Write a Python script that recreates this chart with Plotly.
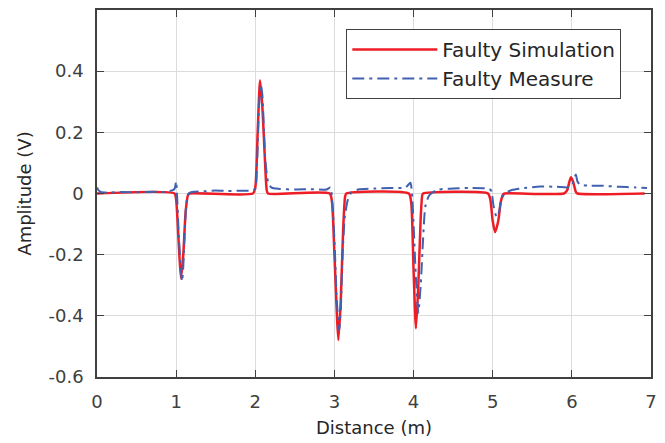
import plotly.graph_objects as go

# Faulty Simulation (red)
sim_x = [0, 0.98, 1.0, 1.03, 1.06, 1.09, 1.12, 1.15, 1.17,
         1.97, 2.0, 2.03, 2.06, 2.09, 2.12, 2.145, 2.16,
         2.94, 2.97, 3.0, 3.05, 3.08, 3.11, 3.135, 3.15,
         3.94, 3.97, 4.0, 4.03, 4.06, 4.09, 4.11, 4.12,
         4.94, 4.97, 5.0, 5.03, 5.07, 5.1, 5.13, 5.15,
         5.9, 5.94, 5.97, 5.99, 6.02, 6.05, 6.07, 6.92]
sim_y = [0, 0, -0.02, -0.15, -0.277, -0.2, -0.06, -0.005, 0,
         0, 0.02, 0.2, 0.37, 0.28, 0.12, 0.01, 0,
         0, -0.03, -0.2, -0.479, -0.35, -0.12, -0.01, 0,
         0, -0.03, -0.25, -0.441, -0.3, -0.08, -0.005, 0,
         0, -0.02, -0.09, -0.126, -0.09, -0.03, -0.003, 0,
         0, 0.01, 0.04, 0.053, 0.035, 0.005, 0, 0]

# Faulty Measure (blue)
meas_x = [0, 0.02, 0.05, 0.15, 0.3, 0.5, 0.7, 0.85, 0.95, 0.98, 1.0, 1.01, 1.03, 1.06, 1.075, 1.09, 1.11, 1.13, 1.16,
          1.2, 1.35, 1.5, 1.65, 1.8, 1.95, 2.0, 2.02, 2.05, 2.07, 2.09, 2.11, 2.13, 2.16, 2.2,
          2.3, 2.5, 2.7, 2.9, 2.95, 2.97, 3.0, 3.03, 3.06, 3.08, 3.1, 3.13, 3.17, 3.22,
          3.3, 3.5, 3.7, 3.9, 3.96, 3.98, 4.0, 4.03, 4.06, 4.09, 4.12, 4.15, 4.2,
          4.3, 4.5, 4.7, 4.9, 4.95, 4.98, 5.01, 5.05, 5.08, 5.11, 5.15,
          5.25, 5.4, 5.6, 5.8, 5.95, 6.0, 6.03, 6.05, 6.07, 6.1, 6.2, 6.4, 6.6, 6.8, 6.95]
meas_y = [0.02, 0.01, 0.005, 0.003, 0.005, 0.004, 0.006, 0.005, 0.01, 0.015, 0.04, 0.005, -0.12, -0.25, -0.287, -0.24, -0.12, -0.03, 0.0,
          0.005, 0.007, 0.01, 0.008, 0.009, 0.01, 0.015, 0.08, 0.3, 0.355, 0.32, 0.2, 0.1, 0.04, 0.02,
          0.015, 0.013, 0.014, 0.013, 0.02, -0.02, -0.15, -0.35, -0.447, -0.38, -0.22, -0.08, -0.02, 0.005,
          0.013, 0.016, 0.018, 0.02, 0.035, 0.0, -0.1, -0.28, -0.39, -0.3, -0.15, -0.04, -0.005,
          0.012, 0.016, 0.018, 0.017, 0.015, 0.01, -0.04, -0.077, -0.06, -0.02, 0.0,
          0.012, 0.018, 0.023, 0.022, 0.02, 0.025, 0.05, 0.062, 0.04, 0.03, 0.026, 0.025, 0.022, 0.02, 0.018]

x_ticks = [0, 1, 2, 3, 4, 5, 6, 7]
y_ticks = [-0.6, -0.4, -0.2, 0, 0.2, 0.4]
y_labels = ["-0.6", "-0.4", "-0.2", "0", "0.2", "0.4"]

FONT = "DejaVu Sans, Liberation Sans, Arial"

fig = go.Figure()
fig.add_trace(go.Scatter(x=sim_x, y=sim_y, mode="lines", name="Faulty Simulation",
                         line=dict(color="#EE1C25", width=2.5, shape="spline", smoothing=0.6)))
fig.add_trace(go.Scatter(x=meas_x, y=meas_y, mode="lines", name="Faulty Measure",
                         line=dict(color="#4060B0", width=2, dash="12px,5px,3px,5px",
                                   shape="spline", smoothing=0.6)))

axis_common = dict(showline=True, mirror="ticks", linecolor="#404040", linewidth=1.5,
                   ticks="inside", ticklen=7, tickcolor="#404040", tickwidth=1.2,
                   showgrid=True, gridcolor="#DCDCDC", gridwidth=1, zeroline=False,
                   tickfont=dict(family=FONT, size=18, color="#404040"))

fig.update_layout(
    width=665, height=443,
    margin=dict(l=97, r=8, t=9, b=66),
    plot_bgcolor="white", paper_bgcolor="white",
    font=dict(family=FONT, color="#404040"),
    xaxis=dict(range=[0, 7], tickvals=x_ticks, ticklabelstandoff=8,
               title=dict(text="Distance (m)", font=dict(family=FONT, size=18, color="#262626"), standoff=10),
               **axis_common),
    yaxis=dict(range=[-0.6, 0.6], tickvals=y_ticks, ticktext=y_labels, ticklabelstandoff=8,
               title=dict(text="Amplitude (V)", font=dict(family=FONT, size=18, color="#262626"), standoff=12),
               **axis_common),
    legend=dict(x=0.45, y=0.948, xanchor="left", yanchor="top",
                bordercolor="#404040", borderwidth=1, bgcolor="white",
                font=dict(family=FONT, size=20, color="#262626"),
                itemwidth=85, tracegroupgap=0),
    showlegend=True,
)

fig.write_html("out.html")
